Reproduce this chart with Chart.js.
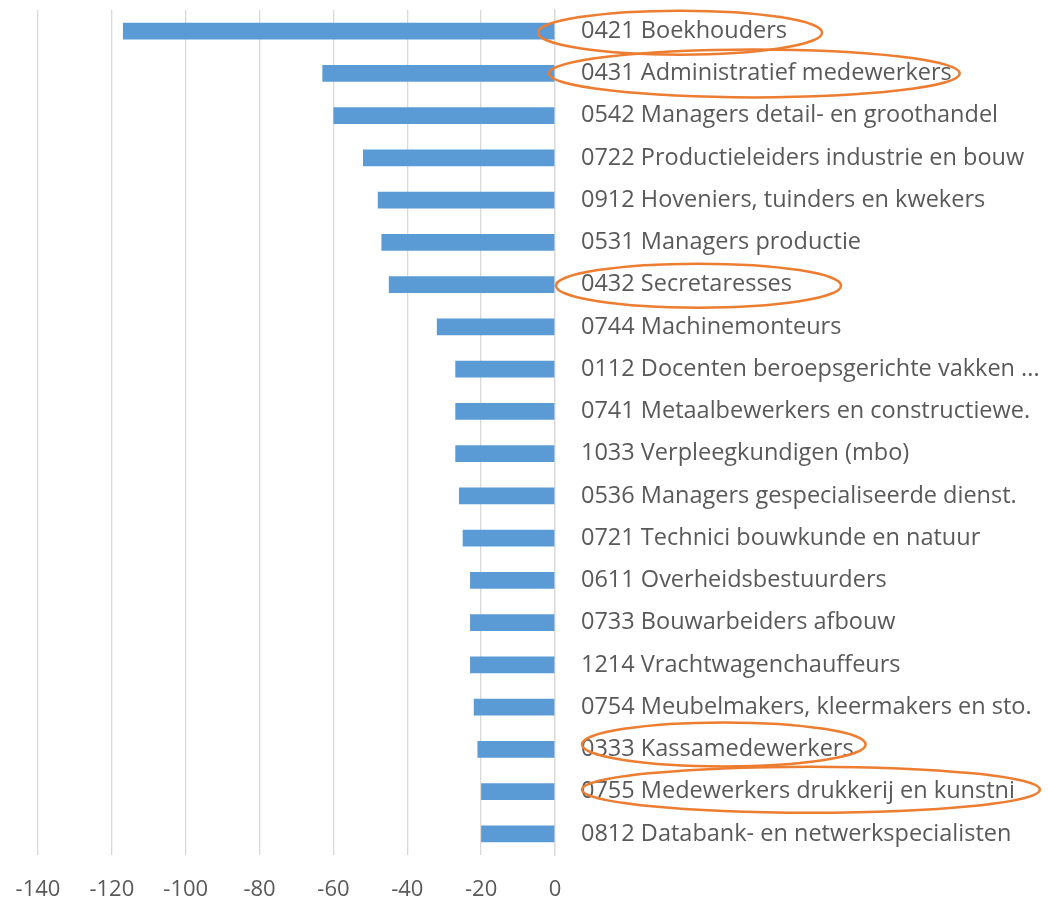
<!DOCTYPE html>
<html>
<head>
<meta charset="utf-8">
<script src="https://cdn.jsdelivr.net/npm/chart.js@4"></script>
<style>
  html, body { margin: 0; padding: 0; background: #fff; }
  #wrap { width: 1048px; height: 902px; }
</style>
</head>
<body>
<div id="wrap"><canvas id="myChart" width="1048" height="902"></canvas></div>
<script>
// beroepen (categorieen), van boven naar beneden
const labels = [
  '0421 Boekhouders',
  '0431 Administratief medewerkers',
  '0542 Managers detail- en groothandel',
  '0722 Productieleiders industrie en bouw',
  '0912 Hoveniers, tuinders en kwekers',
  '0531 Managers productie',
  '0432 Secretaresses',
  '0744 Machinemonteurs',
  '0112 Docenten beroepsgerichte vakken ...',
  '0741 Metaalbewerkers en constructiewe.',
  '1033 Verpleegkundigen (mbo)',
  '0536 Managers gespecialiseerde dienst.',
  '0721 Technici bouwkunde en natuur',
  '0611 Overheidsbestuurders',
  '0733 Bouwarbeiders afbouw',
  '1214 Vrachtwagenchauffeurs',
  '0754 Meubelmakers, kleermakers en sto.',
  '0333 Kassamedewerkers',
  '0755 Medewerkers drukkerij en kunstni',
  '0812 Databank- en netwerkspecialisten'
];

const values = [-117, -63, -60, -52, -48, -47, -45, -32, -27, -27,
                -27, -26, -25, -23, -23, -23, -22, -21, -20, -20];

const xTicks = [-140, -120, -100, -80, -60, -40, -20, 0];

// omcirkelde beroepen (index in labels)
const circled = [0, 1, 6, 17, 18];

const FONT = '"Open Sans", Lato, sans-serif';
const LABEL_SIZE = 23.5;

// hand-drawn style rings round some labels
const ringStyle = {
  0:  { padL: 43, padR: 35, dy: 1.5, ry: 22 },
  1:  { padL: 32, padR: 8,  dy: 0,   ry: 24 },
  6:  { padL: 25, padR: 49, dy: 1,   ry: 22 },
  17: { padL: -1, padR: 12, dy: -5,  ry: 22 },
  18: { padL: -1, padR: 25, dy: -2,  ry: 23 }
};

const ringPlugin = {
  id: 'rings',
  afterDraw(chart) {
    const c = chart.ctx;
    const y = chart.scales.y;
    const x0 = chart.chartArea.right + y.options.ticks.padding;
    c.save();
    c.font = LABEL_SIZE + 'px ' + FONT;
    c.strokeStyle = '#ED7D31';
    c.lineWidth = 2.5;
    circled.forEach(i => {
      const s = ringStyle[i];
      const w = c.measureText(labels[i]).width;
      const left = x0 - s.padL;
      const right = x0 + w + s.padR;
      const cy = y.getPixelForValue(i) + s.dy;
      c.beginPath();
      c.ellipse((left + right) / 2, cy, (right - left) / 2, s.ry, 0, 0, Math.PI * 2);
      c.stroke();
    });
    c.restore();
  }
};

const ctx = document.getElementById('myChart');

new Chart(ctx, {
  type: 'bar',
  data: {
    labels: labels,
    datasets: [{
      data: values,
      backgroundColor: '#5B9BD5',
      borderWidth: 0,
      categoryPercentage: 1,
      barPercentage: 0.4
    }]
  },
  plugins: [ringPlugin],
  options: {
    indexAxis: 'y',
    responsive: false,
    animation: false,
    layout: { padding: { top: 10, left: 0, right: 0, bottom: 0 } },
    plugins: {
      legend: { display: false },
      tooltip: { enabled: false }
    },
    scales: {
      x: {
        min: -140,
        max: 0,
        afterBuildTicks: (scale) => { scale.ticks = xTicks.map(v => ({ value: v })); },
        afterFit: (scale) => {
          scale.height = 47;
          scale.paddingLeft = 38;
        },
        grid: { color: '#D9D9D9', lineWidth: 1.3, drawTicks: false },
        border: { display: false },
        ticks: {
          color: '#595959',
          padding: 22,
          font: { family: FONT, size: 22 }
        }
      },
      y: {
        position: 'right',
        afterFit: (scale) => {
          scale.width = 1048 - 555;
          scale.paddingTop = 0;
          scale.paddingBottom = 0;
        },
        grid: { display: false, drawTicks: false },
        border: { display: true, color: '#D9D9D9', width: 1.3 },
        ticks: {
          color: '#595959',
          padding: 26,
          autoSkip: false,
          font: { family: FONT, size: LABEL_SIZE }
        }
      }
    }
  }
});
</script>
</body>
</html>
